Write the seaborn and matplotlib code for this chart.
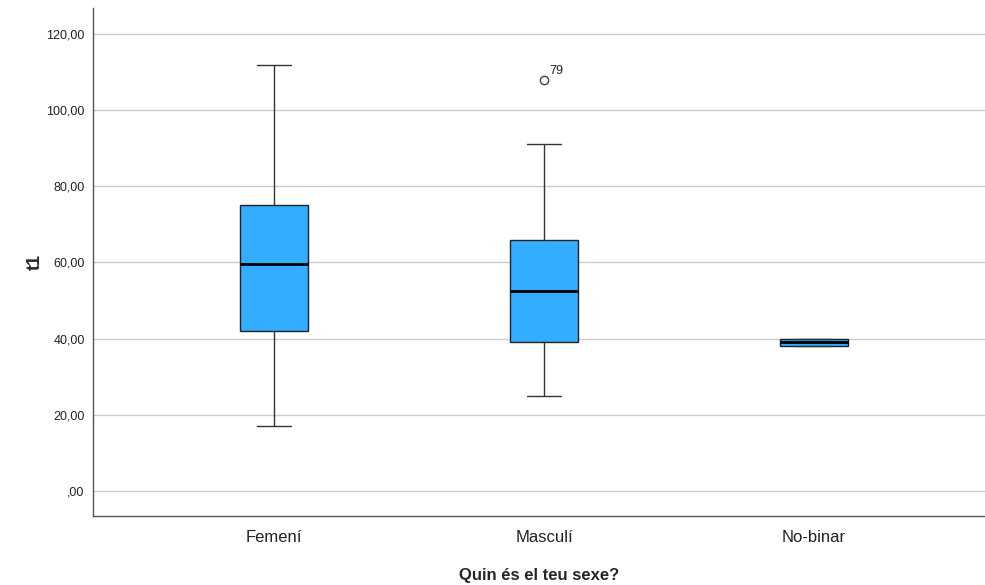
import pandas as pd
import matplotlib.pyplot as plt
import seaborn as sns
from matplotlib.ticker import FuncFormatter

# Data (whisker ends, quartiles, median, outlier)
femeni = [17, 42, 59.5, 75, 112]
masculi = [25, 39, 39, 52.5, 52.5, 66, 66, 91, 108]
no_binar = [38, 38, 39, 40, 40]
categories = ["Femení", "Masculí", "No-binar"]
outlier_label = "79"
outlier_value = 108

df = pd.DataFrame({
    "sexe": [categories[0]] * len(femeni) + [categories[1]] * len(masculi) + [categories[2]] * len(no_binar),
    "t1": femeni + masculi + no_binar,
})

sns.set_style("white")
plt.rcParams['font.family'] = ['Liberation Sans', 'DejaVu Sans']

fig = plt.figure(figsize=(9.85, 5.85), dpi=100)
ax = fig.add_axes([0.0944, 0.118, 0.9056, 0.868])

sns.boxplot(data=df, x="sexe", y="t1", order=categories, ax=ax, width=0.25,
            color="#33adff", saturation=1, whis=1.5,
            boxprops=dict(edgecolor="#222222", linewidth=1),
            medianprops=dict(color="black", linewidth=2),
            whiskerprops=dict(color="#333333", linewidth=1),
            capprops=dict(color="#333333", linewidth=1),
            flierprops=dict(marker="o", markersize=6, markerfacecolor="white",
                            markeredgecolor="#444444", markeredgewidth=1))

# outlier case number
ax.annotate(outlier_label, xy=(1, outlier_value), xytext=(4, 4), textcoords="offset points",
            fontsize=9, color="#222222")

ax.set_xlim(-0.67, 2.633)
ax.set_ylim(-6.6, 126.8)
ax.set_yticks([0, 20, 40, 60, 80, 100, 120])
ax.yaxis.set_major_formatter(FuncFormatter(
    lambda v, p: ",00" if v == 0 else f"{v:.2f}".replace(".", ",")))
ax.grid(axis="y", color="#cccccc", linewidth=1)
ax.set_axisbelow(True)

for s in ["top", "right"]:
    ax.spines[s].set_visible(False)
for s in ["left", "bottom"]:
    ax.spines[s].set_color("#555555")
    ax.spines[s].set_linewidth(1)

ax.tick_params(axis="y", length=0, labelsize=9, pad=6, labelcolor="#222222")
ax.tick_params(axis="x", length=0, labelsize=12, pad=10, labelcolor="#222222")

ax.set_xlabel("Quin és el teu sexe?", fontsize=12, fontweight="bold", labelpad=17)
ax.set_ylabel("t1", fontsize=13, fontweight="bold")
ax.yaxis.set_label_coords(-0.055, 0.5)

plt.savefig("out.png", dpi=100)
